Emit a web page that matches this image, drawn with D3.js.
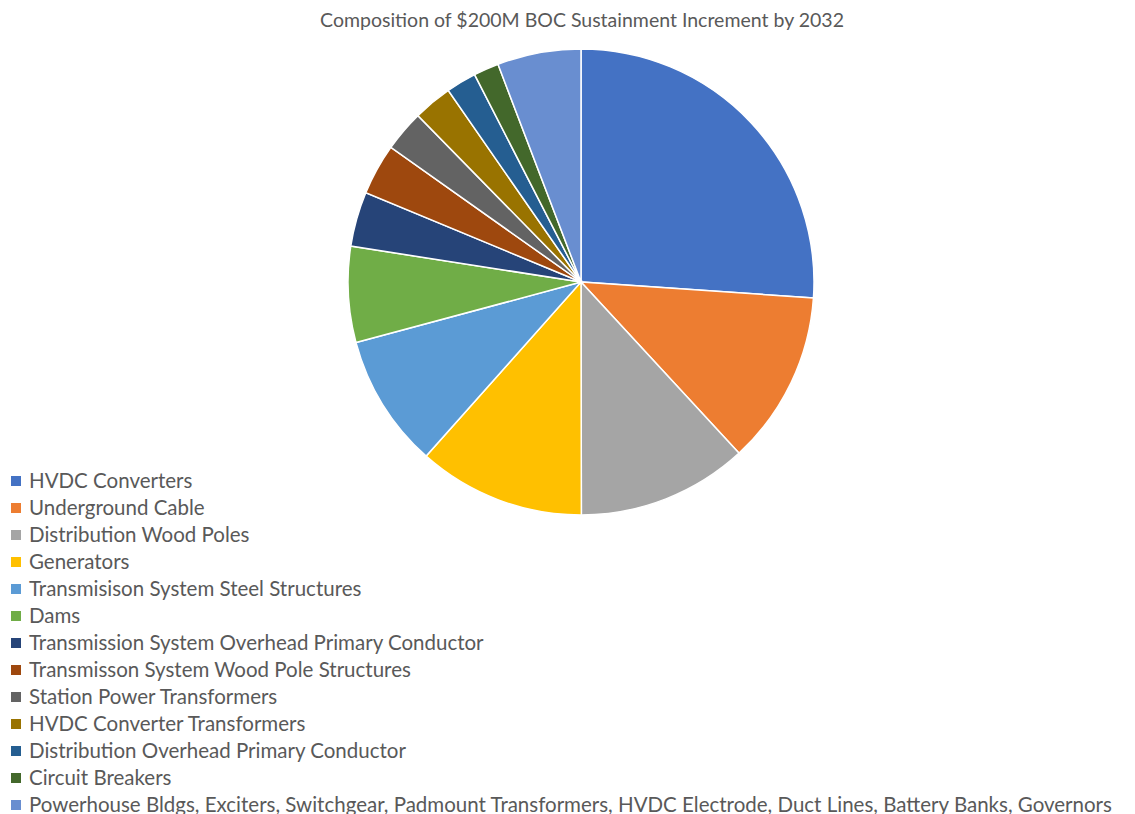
<!DOCTYPE html>
<html>
<head>
<meta charset="utf-8">
<script src="https://cdn.jsdelivr.net/npm/d3@7"></script>
<style>
  body { margin: 0; background: #fff; }
  svg { display: block; font-family: Lato, "Open Sans", sans-serif; }
</style>
</head>
<body>
<div class="chart"></div>
<script>
let categories = [
  "HVDC Converters",
  "Underground Cable",
  "Distribution Wood Poles",
  "Generators",
  "Transmisison System Steel Structures",
  "Dams",
  "Transmission System Overhead Primary Conductor",
  "Transmisson System Wood Pole Structures",
  "Station Power Transformers",
  "HVDC Converter Transformers",
  "Distribution Overhead Primary Conductor",
  "Circuit Breakers",
  "Powerhouse Bldgs, Exciters, Switchgear, Padmount Transformers, HVDC Electrode, Duct Lines, Battery Banks, Governors"
];

// $M
let values = [52.2, 24.1, 23.7, 23.2, 18.5, 13.3, 7.6, 7.1, 5.7, 5.4, 4.2, 3.5, 11.6];

let colors = ["#4472C4", "#ED7D31", "#A5A5A5", "#FFC000", "#5B9BD5", "#70AD47",
  "#264478", "#9E480E", "#636363", "#997300", "#255E91", "#43682B", "#698ED0"];

let width = 1135, height = 814;

let svg = d3.select(".chart")
  .append("svg")
  .attr("width", width)
  .attr("height", height);

svg.append("text")
  .attr("x", 582)
  .attr("y", 27)
  .attr("text-anchor", "middle")
  .style("font-size", "19.5px")
  .style("fill", "#595959")
  .text("Composition of $200M BOC Sustainment Increment by 2032");

let data = categories.map((c, i) => ({ name: c, value: values[i], color: colors[i] }));

let pie = d3.pie().sort(null).value(d => d.value);
let arc = d3.arc().innerRadius(0).outerRadius(233);

let g = svg.append("g").attr("transform", "translate(581,282)");

g.selectAll("path")
  .data(pie(data))
  .enter()
  .append("path")
  .attr("d", arc)
  .attr("fill", d => d.data.color)
  .attr("stroke", "#fff")
  .attr("stroke-width", 1.5);

let legend = svg.append("g").attr("transform", "translate(11,481)");

let rows = legend.selectAll(".row")
  .data(data)
  .enter()
  .append("g")
  .attr("class", "row")
  .attr("transform", (d, i) => "translate(0," + i * 27 + ")");

rows.append("rect")
  .attr("x", 0)
  .attr("y", -5)
  .attr("width", 10)
  .attr("height", 10)
  .attr("fill", d => d.color);

rows.append("text")
  .attr("x", 18)
  .attr("y", 0)
  .attr("dy", "0.35em")
  .style("font-size", "20.5px")
  .style("fill", "#595959")
  .text(d => d.name);
</script>
</body>
</html>
